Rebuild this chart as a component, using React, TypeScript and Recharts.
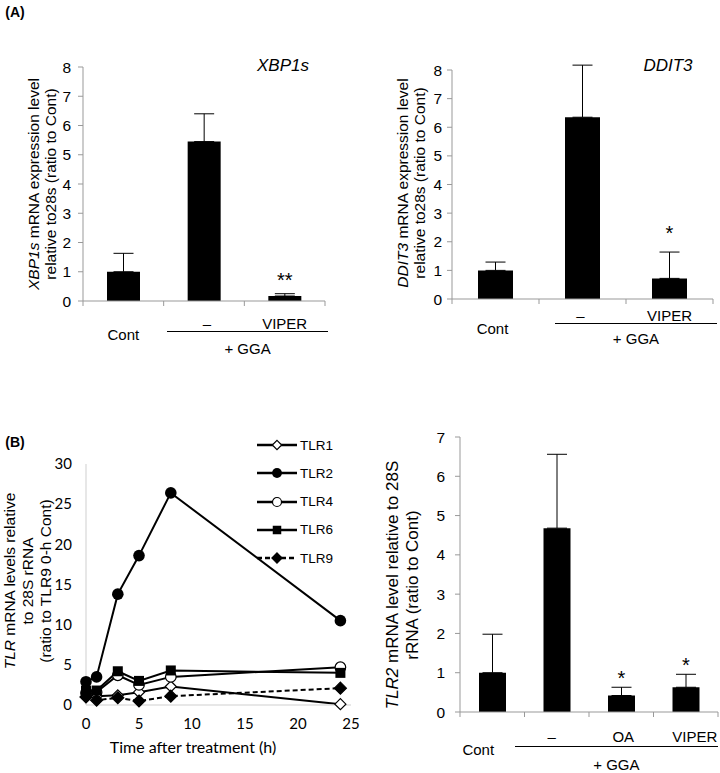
import React from 'react';
import { BarChart, Bar, XAxis, YAxis, ErrorBar, LabelList, ReferenceLine, LineChart, Line } from 'recharts';

const SANS = '"Liberation Sans", Arial, Helvetica, sans-serif';
const LATO = 'Lato, "Open Sans", sans-serif';

// (A) XBP1s
const xbpCats = ['Cont', '–', 'VIPER'];
const xbpVals = [1.0, 5.45, 0.17];
const xbpErrs = [0.63, 0.95, 0.08];
const xbpSig = ['', '', '**'];

// (A) DDIT3
const ddCats = ['Cont', '–', 'VIPER'];
const ddVals = [1.0, 6.35, 0.72];
const ddErrs = [0.29, 1.82, 0.92];
const ddSig = ['', '', '*'];

// (B) TLR2 bars
const t2Cats = ['Cont', '–', 'OA', 'VIPER'];
const t2Vals = [1.0, 4.68, 0.42, 0.63];
const t2Errs = [0.98, 1.88, 0.21, 0.33];
const t2Sig = ['', '', '*', '*'];

// (B) time course
const hours = [0, 1, 3, 5, 8, 24];
const tlr1 = [1.0, 1.1, 1.2, 1.6, 2.3, 0.1];
const tlr2 = [2.9, 3.5, 13.8, 18.6, 26.4, 10.5];
const tlr4 = [1.5, 1.6, 3.7, 2.5, 3.5, 4.7];
const tlr6 = [1.8, 1.8, 4.2, 3.0, 4.3, 4.0];
const tlr9 = [1.0, 0.6, 0.9, 0.5, 1.1, 2.1];
const timeTicks = [0, 5, 10, 15, 20, 25];
const tlrTicks = [0, 5, 10, 15, 20, 25, 30];

const series = [
  { key: 'TLR1', values: tlr1, shape: 'diamondOpen', dash: undefined },
  { key: 'TLR2', values: tlr2, shape: 'circle', dash: undefined },
  { key: 'TLR4', values: tlr4, shape: 'circleOpen', dash: undefined },
  { key: 'TLR6', values: tlr6, shape: 'square', dash: undefined },
  { key: 'TLR9', values: tlr9, shape: 'diamond', dash: '5 3' },
];

const lineData = hours.map((h, i) => {
  const row: any = { h };
  series.forEach((s) => (row[s.key] = s.values[i]));
  return row;
});

const range = (n: number) => Array.from({ length: n + 1 }, (_, i) => i);

function Txt({ x, y, size = 15, children, style }: any) {
  return (
    <div style={{ position: 'absolute', left: x, top: y, transform: 'translate(-50%,-50%)', fontSize: size, fontFamily: SANS, whiteSpace: 'nowrap', lineHeight: 1, ...style }}>
      {children}
    </div>
  );
}

function VLabel({ x, y, size, gap, lines }: any) {
  return (
    <div style={{ position: 'absolute', left: x, top: y, transform: 'translate(-50%,-50%) rotate(-90deg)', textAlign: 'center', fontSize: size, lineHeight: `${gap}px`, whiteSpace: 'nowrap', fontFamily: SANS }}>
      {lines.map((l: any, i: number) => <div key={i}>{l}</div>)}
    </div>
  );
}

function Marker({ shape, cx, cy, s = 1 }: any) {
  if (cx == null || cy == null) return null;
  if (shape === 'diamondOpen' || shape === 'diamond') {
    const r = (shape === 'diamond' ? 6 : 5.5) * s;
    return (
      <polygon points={`${cx},${cy - r} ${cx + r},${cy} ${cx},${cy + r} ${cx - r},${cy}`}
        fill={shape === 'diamond' ? '#000' : '#fff'} stroke="#000" strokeWidth={1.2} />
    );
  }
  if (shape === 'circle') return <circle cx={cx} cy={cy} r={5.8 * s} fill="#000" />;
  if (shape === 'circleOpen') return <circle cx={cx} cy={cy} r={5.3 * s} fill="#fff" stroke="#000" strokeWidth={1.2} />;
  const h = 5 * s;
  return <rect x={cx - h} y={cy - h} width={2 * h} height={2 * h} fill="#000" />;
}

const panelXbp = {
  box: { left: 0, top: 0, width: 340, height: 330 },
  plot: { x0: 83, x1: 325, y0: 67, y1: 301 },
  yMax: 8, barSize: 33, tickFont: 15.5, tickGap: 7, starGap: 18,
  dashDy: 22, contDy: 33, bracket: [1.04, 3.04], bracketDy: 31, ggaDy: 47, dx: [0, 3, 0],
};
const panelDd = {
  box: { left: 360, top: 0, width: 360, height: 330 },
  plot: { x0: 452, x1: 713, y0: 70, y1: 299 },
  yMax: 8, barSize: 35, tickFont: 15.5, tickGap: 5, starGap: 24,
  dashDy: 16, contDy: 29, bracket: [1.18, 3.05], bracketDy: 25, ggaDy: 39, dx: [-3, -2, 0],
};
const panelT2 = {
  box: { left: 360, top: 380, width: 360, height: 393 },
  plot: { x0: 460, x1: 718, y0: 437, y1: 712 },
  yMax: 7, barSize: 27, tickFont: 15.5, tickGap: 10, starGap: 14,
  dashDy: 24, contDy: 37, bracket: [0.85, 4], bracketDy: 35, ggaDy: 52, dx: [-14, -5, 2, 9],
};

function BarPanel({ cfg, cats, vals, errs, sig }: any) {
  const { box, plot, yMax } = cfg;
  const n = cats.length;
  const unit = (plot.y1 - plot.y0) / yMax;
  const topVal = Math.max(yMax, ...vals.map((v: number, i: number) => v + errs[i]));
  const plotTop = plot.y1 - topVal * unit;
  const YW = 30;
  const XH = 10;
  const margin = {
    top: plotTop - box.top,
    right: box.left + box.width - plot.x1,
    bottom: box.top + box.height - plot.y1 - XH,
    left: plot.x0 - box.left - YW,
  };
  const data = cats.map((c: string, i: number) => ({ pos: i + 0.5, val: vals[i], err: [0, errs[i]], sig: sig[i] }));
  const cw = (plot.x1 - plot.x0) / n;
  const cx = (i: number) => plot.x0 + (i + 0.5) * cw;

  const star = (p: any) => {
    const vb = p.viewBox && p.viewBox.width != null ? p.viewBox : p;
    const { x, y, width, height } = vb;
    const i = p.index;
    if (!p.value || i == null) return null;
    const errPx = (height * errs[i]) / vals[i];
    return (
      <text x={x + width / 2} y={y - errPx - cfg.starGap + 11.5} textAnchor="middle" fontSize={20} fontFamily={SANS} fill="#000">
        {p.value}
      </text>
    );
  };

  return (
    <>
      <div style={{ position: 'absolute', left: box.left, top: box.top }}>
        <BarChart width={box.width} height={box.height} data={data} margin={margin}>
          <XAxis type="number" dataKey="pos" domain={[0, n]} ticks={range(n)} interval={0} tickFormatter={() => ''}
            height={XH} stroke="#999" tickSize={5} />
          <YAxis type="number" domain={[0, topVal]} ticks={range(yMax)} interval={0} width={YW} axisLine={false}
            stroke="#999" tickSize={5} tickMargin={cfg.tickGap} tick={{ fill: '#000', fontSize: cfg.tickFont, fontFamily: SANS }} />
          <ReferenceLine segment={[{ x: 0, y: 0 }, { x: 0, y: yMax }]} stroke="#999" />
          <Bar dataKey="val" fill="#000" barSize={cfg.barSize} isAnimationActive={false}>
            <ErrorBar dataKey="err" width={10} stroke="#000" strokeWidth={1} />
            <LabelList dataKey="sig" content={star} />
          </Bar>
        </BarChart>
      </div>
      {cats.map((c: string, i: number) => (
        <Txt key={i} x={cx(i) + cfg.dx[i]} y={plot.y1 + (i === 0 ? cfg.contDy : cfg.dashDy)}>{c}</Txt>
      ))}
      <div style={{ position: 'absolute', left: plot.x0 + cfg.bracket[0] * cw, top: plot.y1 + cfg.bracketDy - 0.75,
        width: (cfg.bracket[1] - cfg.bracket[0]) * cw, height: 0, borderTop: '1.5px solid #000' }} />
      <Txt x={plot.x0 + ((cfg.bracket[0] + cfg.bracket[1]) / 2) * cw} y={plot.y1 + cfg.ggaDy}>+ GGA</Txt>
    </>
  );
}

function TimeCourse() {
  return (
    <>
      <div style={{ position: 'absolute', left: 0, top: 380 }}>
        <LineChart width={360} height={393} data={lineData} margin={{ top: 84, right: 9, left: 56, bottom: 38 }}>
          <XAxis type="number" dataKey="h" domain={[0, 25]} ticks={timeTicks} interval={0} height={30} stroke="#cfcfcf"
            tickLine={false} tickSize={6} tickMargin={7} tick={{ fill: '#000', fontSize: 15, fontFamily: LATO }} />
          <YAxis type="number" domain={[0, 30]} ticks={tlrTicks} interval={0} width={30} stroke="#cfcfcf"
            tickLine={false} tickSize={6} tickMargin={8} tick={{ fill: '#000', fontSize: 15, fontFamily: LATO }} />
          {series.map((s) => (
            <Line key={s.key} dataKey={s.key} type="linear" stroke="#000" strokeWidth={2} strokeDasharray={s.dash}
              isAnimationActive={false}
              dot={(p: any) => <Marker key={`${s.key}-${p.index}`} shape={s.shape} cx={p.cx} cy={p.cy} />} />
          ))}
        </LineChart>
      </div>
      <div style={{ position: 'absolute', left: 257, top: 431 }}>
        {series.map((s) => (
          <div key={s.key} style={{ display: 'flex', alignItems: 'center', height: 28.25 }}>
            <svg width={42} height={14} style={{ display: 'block' }}>
              <line x1={0} y1={7} x2={40} y2={7} stroke="#000" strokeWidth={2.5} strokeDasharray={s.dash} />
              <Marker shape={s.shape} cx={20} cy={7} s={0.85} />
            </svg>
            <span style={{ fontFamily: SANS, fontSize: 13.5, marginLeft: 1 }}>{s.key}</span>
          </div>
        ))}
      </div>
      <Txt x={193} y={747} size={16} style={{ fontFamily: LATO }}>Time after treatment (h)</Txt>
      <VLabel x={28} y={581} size={15.5} gap={18}
        lines={[<span><i>TLR</i> mRNA levels relative</span>, 'to 28S rRNA', '(ratio to TLR9 0-h Cont)']} />
    </>
  );
}

export default function App() {
  return (
    <div style={{ position: 'absolute', left: 0, top: 0, width: 720, height: 773, background: '#fff', overflow: 'hidden', fontFamily: SANS }}>
      <Txt x={15} y={12} size={14} style={{ fontWeight: 'bold' }}>(A)</Txt>
      <Txt x={15} y={442} size={14} style={{ fontWeight: 'bold' }}>(B)</Txt>

      <BarPanel cfg={panelXbp} cats={xbpCats} vals={xbpVals} errs={xbpErrs} sig={xbpSig} />
      <Txt x={283} y={65} size={17} style={{ fontStyle: 'italic' }}>XBP1s</Txt>
      <VLabel x={41.5} y={184} size={15.5} gap={17}
        lines={[<span><i>XBP1s</i> mRNA expression level</span>, 'relative to28s (ratio to Cont)']} />

      <BarPanel cfg={panelDd} cats={ddCats} vals={ddVals} errs={ddErrs} sig={ddSig} />
      <Txt x={668} y={65} size={17} style={{ fontStyle: 'italic' }}>DDIT3</Txt>
      <VLabel x={410.5} y={183} size={15.5} gap={17}
        lines={[<span><i>DDIT3</i> mRNA expression level</span>, 'relative to28s (ratio to Cont)']} />

      <TimeCourse />

      <BarPanel cfg={panelT2} cats={t2Cats} vals={t2Vals} errs={t2Errs} sig={t2Sig} />
      <VLabel x={403} y={585} size={17} gap={20}
        lines={[<span><i>TLR2</i> mRNA level relative to 28S</span>, 'rRNA (ratio to Cont)']} />
    </div>
  );
}
